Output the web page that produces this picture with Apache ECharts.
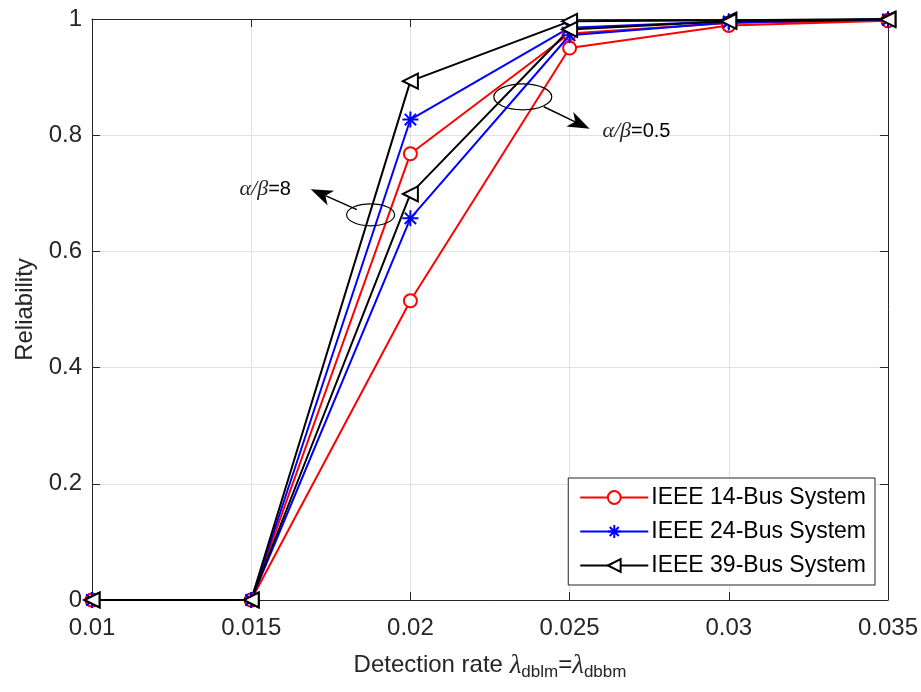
<!DOCTYPE html>
<html>
<head>
<meta charset="utf-8">
<script src="https://cdn.jsdelivr.net/npm/echarts@6/dist/echarts.min.js"></script>
<style>
  html, body { margin: 0; background: #fff; }
  #chart { width: 921px; height: 692px; }
</style>
</head>
<body>
<div id="chart"></div>
<script>
// detection rate (x) and reliability values
const rates = [0.01, 0.015, 0.02, 0.025, 0.03, 0.035];
const bus14Ratio8 = [0, 0, 0.768, 0.975, 0.993, 0.998];
const bus14Ratio05 = [0, 0, 0.515, 0.950, 0.989, 0.997];
const bus24Ratio8 = [0, 0, 0.827, 0.985, 0.996, 0.999];
const bus24Ratio05 = [0, 0, 0.657, 0.972, 0.994, 0.999];
const bus39Ratio8 = [0, 0, 0.893, 0.996, 0.998, 1];
const bus39Ratio05 = [0, 0, 0.699, 0.982, 0.996, 0.999];
const yTicks = [0, 0.2, 0.4, 0.6, 0.8, 1];

const font = "'Liberation Sans', Arial, sans-serif";
const axisColor = "#262626";
const starPath = "path://M0,-10L0,10M-10,0L10,0M-7.07,-7.07L7.07,7.07M-7.07,7.07L7.07,-7.07";

const pairs = vals => rates.map((r, i) => [r, vals[i]]);

const systems = [
  { name: "IEEE 14-Bus System", color: "#ff0000", symbol: "emptyCircle", size: 13, rotate: 0, bw: 2, sets: [bus14Ratio8, bus14Ratio05] },
  { name: "IEEE 24-Bus System", color: "#0000ff", symbol: starPath, size: 16, rotate: 0, bw: 2, sets: [bus24Ratio8, bus24Ratio05] },
  { name: "IEEE 39-Bus System", color: "#000000", symbol: "emptyTriangle", size: 15, rotate: 90, bw: 2, sets: [bus39Ratio8, bus39Ratio05] }
];

const series = [];
systems.forEach(s => {
  s.sets.forEach(vals => {
    series.push({
      name: s.name,
      type: "line",
      data: pairs(vals),
      symbol: s.symbol,
      symbolSize: s.size,
      symbolRotate: s.rotate,
      showAllSymbol: true,
      lineStyle: { color: s.color, width: 2 },
      itemStyle: { color: s.color, borderColor: s.color, borderWidth: s.bw },
      emphasis: { disabled: true },
      animation: false,
      z: 3
    });
  });
});

const chart = echarts.init(document.getElementById("chart"));
const fmt = v => String(+v.toFixed(3));

chart.setOption({
  backgroundColor: "#fff",
  animation: false,
  grid: { left: 92, right: 30, top: 19, bottom: 92 },
  legend: {
    orient: "vertical",
    right: 46,
    top: 478,
    data: systems.map(s => s.name),
    itemWidth: 68,
    itemHeight: 16,
    itemGap: 11,
    padding: [8, 9, 8, 11],
    backgroundColor: "#fff",
    borderColor: axisColor,
    borderWidth: 1,
    borderRadius: 0,
    selectedMode: false,
    textStyle: { fontFamily: font, fontSize: 23, color: "#000", padding: [0, 0, 0, -2] }
  },
  xAxis: [{
    type: "value",
    min: 0.01,
    max: 0.035,
    interval: 0.005,
    name: "Detection rate {l|λ}{sub|dblm}={l|λ}{sub|dbbm}",
    nameLocation: "middle",
    nameGap: 50,
    nameTextStyle: {
      fontFamily: font, fontSize: 24, color: axisColor,
      rich: {
        l: { fontFamily: "'Liberation Serif', serif", fontStyle: "italic", fontSize: 27, color: axisColor },
        sub: { fontFamily: font, fontSize: 17, color: axisColor, padding: [14, 0, 0, 0] }
      }
    },
    axisLine: { show: true, lineStyle: { color: axisColor, width: 1 } },
    axisTick: { inside: true, length: 8, lineStyle: { color: axisColor } },
    axisLabel: { formatter: fmt, fontFamily: font, fontSize: 24, color: axisColor, margin: 16 },
    splitLine: { show: true, lineStyle: { color: "#e2e2e2", width: 1 } }
  }, {
    type: "value",
    position: "top",
    min: 0.01,
    max: 0.035,
    interval: 0.005,
    axisLine: { show: true, onZero: false, lineStyle: { color: axisColor, width: 1 } },
    axisTick: { inside: true, length: 8, lineStyle: { color: axisColor } },
    axisLabel: { show: false },
    splitLine: { show: false }
  }],
  yAxis: [{
    type: "value",
    min: yTicks[0],
    max: yTicks[yTicks.length - 1],
    interval: 0.2,
    name: "Reliability",
    nameLocation: "middle",
    nameGap: 54,
    nameTextStyle: { fontFamily: font, fontSize: 24, color: axisColor },
    axisLine: { show: true, lineStyle: { color: axisColor, width: 1 } },
    axisTick: { inside: true, length: 8, lineStyle: { color: axisColor } },
    axisLabel: { formatter: fmt, fontFamily: font, fontSize: 24, color: axisColor, margin: 10 },
    splitLine: { show: true, lineStyle: { color: "#e2e2e2", width: 1 } }
  }, {
    type: "value",
    position: "right",
    min: yTicks[0],
    max: yTicks[yTicks.length - 1],
    interval: 0.2,
    axisLine: { show: true, onZero: false, lineStyle: { color: axisColor, width: 1 } },
    axisTick: { inside: true, length: 8, lineStyle: { color: axisColor } },
    axisLabel: { show: false },
    splitLine: { show: false }
  }],
  series: series
});

// annotations (ellipse + arrow + label), anchored in data coordinates
const notes = [
  { label: "=8", center: [0.01875, 0.663], rx: 24, ry: 11, tail: [0.01832, 0.672], tip: [0.01687, 0.707], text: [0.01625, 0.707], align: "right" },
  { label: "=0.5", center: [0.02353, 0.866], rx: 29, ry: 13, tail: [0.02419, 0.849], tip: [0.02563, 0.811], text: [0.02603, 0.806], align: "left" }
];

function arrowHead(tip, tail) {
  const dx = tip[0] - tail[0], dy = tip[1] - tail[1];
  const len = Math.hypot(dx, dy);
  const ux = dx / len, uy = dy / len, nx = -uy, ny = ux;
  const L = 22, W = 8, notch = 6;
  return {
    head: [
      [tip[0], tip[1]],
      [tip[0] - L * ux + W * nx, tip[1] - L * uy + W * ny],
      [tip[0] - (L - notch) * ux, tip[1] - (L - notch) * uy],
      [tip[0] - L * ux - W * nx, tip[1] - L * uy - W * ny]
    ],
    neck: [tip[0] - (L - notch) * ux, tip[1] - (L - notch) * uy]
  };
}

const graphics = [];
notes.forEach(n => {
  const c = chart.convertToPixel({ gridIndex: 0 }, n.center);
  const t0 = chart.convertToPixel({ gridIndex: 0 }, n.tail);
  const t1 = chart.convertToPixel({ gridIndex: 0 }, n.tip);
  const tp = chart.convertToPixel({ gridIndex: 0 }, n.text);
  const a = arrowHead(t1, t0);
  graphics.push({ type: "ellipse", shape: { cx: c[0], cy: c[1], rx: n.rx, ry: n.ry }, style: { fill: null, stroke: "#000", lineWidth: 1.2 }, z: 10 });
  graphics.push({ type: "line", shape: { x1: t0[0], y1: t0[1], x2: a.neck[0], y2: a.neck[1] }, style: { stroke: "#000", lineWidth: 1.5 }, z: 10 });
  graphics.push({ type: "polygon", shape: { points: a.head }, style: { fill: "#000" }, z: 10 });
  graphics.push({
    type: "text", x: tp[0], y: tp[1], z: 10,
    style: {
      text: "{g|α/β}{n|" + n.label + "}",
      align: n.align, verticalAlign: "middle",
      rich: {
        g: { fontFamily: "'Liberation Serif', serif", fontStyle: "italic", fontSize: 22, fill: "#262626" },
        n: { fontFamily: font, fontSize: 20, fill: "#000" }
      }
    }
  });
});
chart.setOption({ graphic: graphics });
</script>
</body>
</html>
